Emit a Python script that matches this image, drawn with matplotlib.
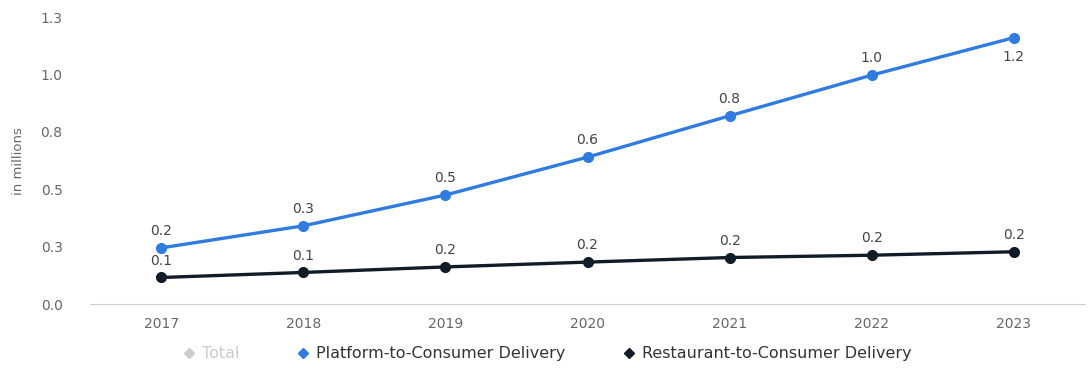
import matplotlib.pyplot as plt
from matplotlib.lines import Line2D

years = [2017, 2018, 2019, 2020, 2021, 2022, 2023]
platform = [0.245, 0.341, 0.475, 0.64, 0.82, 0.997, 1.16]
restaurant = [0.116, 0.138, 0.162, 0.183, 0.203, 0.213, 0.228]
yticks = [0, 0.25, 0.5, 0.75, 1.0, 1.25]
ytick_labels = ['0.0', '0.3', '0.5', '0.8', '1.0', '1.3']

blue = '#2f7be0'
dark = '#111c28'
grey = '#666666'

plt.rcParams['font.family'] = 'DejaVu Sans'

fig = plt.figure(figsize=(10.88, 3.7), dpi=100)
ax = fig.add_axes([0.083, 0.178, 0.914, 0.776])

ax.plot(years, platform, color=blue, lw=2.4, marker='o', ms=7, zorder=3)
ax.plot(years, restaurant, color=dark, lw=2.4, marker='o', ms=7, zorder=3)

for i, (x, v) in enumerate(zip(years, platform)):
    if i == len(years) - 1:
        ax.annotate(f'{v:.1f}', (x, v), xytext=(0, -9), textcoords='offset points',
                    ha='center', va='top', fontsize=10, color='#444444')
    else:
        ax.annotate(f'{v:.1f}', (x, v), xytext=(0, 7), textcoords='offset points',
                    ha='center', va='bottom', fontsize=10, color='#444444')
for x, v in zip(years, restaurant):
    ax.annotate(f'{v:.1f}', (x, v), xytext=(0, 7), textcoords='offset points',
                ha='center', va='bottom', fontsize=10, color='#444444')

ax.set_xlim(2016.5, 2023.5)
ax.set_ylim(0, 1.25)
ax.set_xticks(years)
ax.set_xticklabels([str(y) for y in years])
ax.set_yticks(yticks)
ax.set_yticklabels(ytick_labels)
ax.tick_params(axis='both', length=0, labelsize=10, colors=grey)
ax.tick_params(axis='y', pad=20)
ax.tick_params(axis='x', pad=9)
for side in ['top', 'right', 'left']:
    ax.spines[side].set_visible(False)
ax.spines['bottom'].set_color('#cccccc')
ax.set_ylabel('in millions', fontsize=9.5, color=grey)
ax.yaxis.set_label_coords(-0.066, 0.5)

handles = [
    Line2D([], [], color='#cccccc', marker='D', ms=5, lw=0),
    Line2D([], [], color=blue, marker='D', ms=5, lw=0),
    Line2D([], [], color=dark, marker='D', ms=5, lw=0),
]
labels = ['Total', 'Platform-to-Consumer Delivery', 'Restaurant-to-Consumer Delivery']
leg = fig.legend(handles, labels, loc='lower center', bbox_to_anchor=(0.503, -0.015),
                 ncol=3, frameon=False, fontsize=11.5, handlelength=0.8,
                 handletextpad=0.4, columnspacing=3.6)
cols = ['#cccccc', '#333333', '#333333']
for t, c in zip(leg.get_texts(), cols):
    t.set_color(c)

fig.savefig('out.png', dpi=100)
